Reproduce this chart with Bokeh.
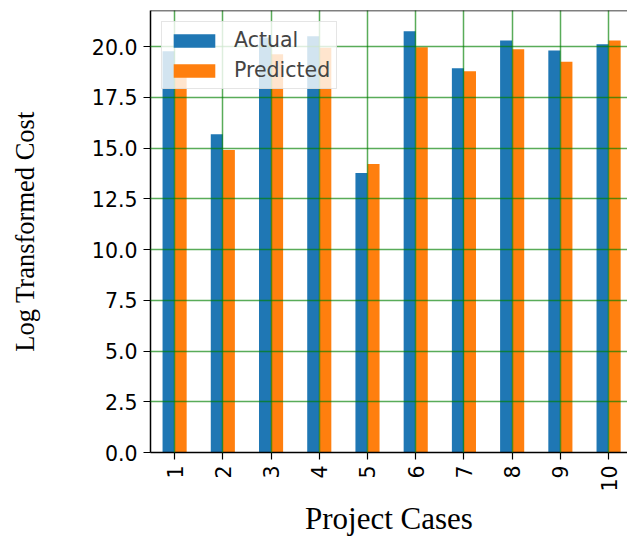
import numpy as np
from bokeh.plotting import figure
from bokeh.models import (Range1d, FixedTicker, SingleIntervalTicker, NumeralTickFormatter,
                          ColumnDataSource, Legend, LegendItem, Span)
from bokeh.embed import file_html
from bokeh.resources import INLINE

cases = ["1", "2", "3", "4", "5", "6", "7", "8", "9", "10"]
actual = [19.77, 15.68, 20.45, 20.51, 13.77, 20.76, 18.93, 20.30, 19.81, 20.12]
predicted = [18.59, 14.91, 19.63, 19.94, 14.22, 19.97, 18.79, 19.87, 19.26, 20.30]

idx = np.arange(len(cases))
bar_w = 0.25
src = ColumnDataSource(dict(
    xa=idx - bar_w / 2, xp=idx + bar_w / 2, actual=actual, predicted=predicted))

p = figure(width=627, height=539, output_backend="svg", toolbar_location=None,
           x_range=Range1d(-0.5, 9.392), y_range=Range1d(0, 21.78),
           min_border_left=150, min_border_right=0, min_border_top=10, min_border_bottom=87)
p.outline_line_color = None
p.background_fill_color = "white"
p.border_fill_color = "white"

ra = p.vbar(x="xa", top="actual", width=bar_w, source=src, fill_color="#1f77b4", line_color=None)
rp = p.vbar(x="xp", top="predicted", width=bar_w, source=src, fill_color="#ff7f0e", line_color=None)

# top border line
p.add_layout(Span(location=21.78, dimension="width", line_color="black", line_width=1.5))

# axes
xa = p.xaxis[0]
xa.ticker = FixedTicker(ticks=list(idx))
xa.major_label_overrides = {int(i): c for i, c in zip(idx, cases)}
xa.major_label_orientation = np.pi / 2
ya = p.yaxis[0]
ya.ticker = SingleIntervalTicker(interval=2.5)
ya.formatter = NumeralTickFormatter(format="0.0")

for ax in (xa, ya):
    ax.axis_line_color = "black"
    ax.axis_line_width = 1.5
    ax.major_tick_line_color = "black"
    ax.major_tick_line_width = 1.2
    ax.major_tick_out = 7
    ax.major_tick_in = 0
    ax.minor_tick_line_color = None
    ax.major_label_text_font = "DejaVu Sans"
    ax.major_label_text_font_size = "20.5px"
    ax.major_label_text_color = "black"
    ax.major_label_standoff = 6
    ax.axis_label_text_font = "Liberation Serif"
    ax.axis_label_text_font_style = "normal"
    ax.axis_label_text_color = "black"

xa.axis_label = "Project Cases"
xa.axis_label_text_font_size = "31px"
xa.axis_label_standoff = 6
ya.axis_label = "Log Transformed Cost"
ya.axis_label_text_font_size = "26.5px"
ya.axis_label_standoff = 49

for g in (p.xgrid[0], p.ygrid[0]):
    g.grid_line_color = "green"
    g.grid_line_alpha = 0.65
    g.grid_line_width = 1.5
    g.level = "guide"
p.xgrid[0].ticker = xa.ticker
p.ygrid[0].ticker = ya.ticker

legend = Legend(items=[LegendItem(label="Actual", renderers=[ra]),
                       LegendItem(label="Predicted", renderers=[rp])],
                location="top_left")
legend.margin = 11
legend.padding = 6
legend.spacing = 6
legend.glyph_width = 52
legend.glyph_height = 17
legend.label_standoff = 14
legend.label_text_font = "DejaVu Sans"
legend.label_text_font_size = "20.5px"
legend.background_fill_color = "white"
legend.background_fill_alpha = 0.8
legend.border_line_color = "#cccccc"
legend.border_line_width = 1.2
p.add_layout(legend)

open("out.html", "w").write(file_html(p, INLINE))
